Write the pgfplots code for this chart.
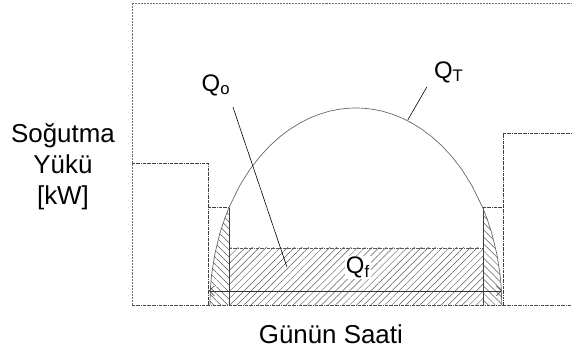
\documentclass[border=0pt]{standalone}
\usepackage{fontspec}
\setmainfont{Liberation Sans}
\usepackage{pgfplots}
\pgfplotsset{compat=1.18}
\usetikzlibrary{patterns.meta,arrows.meta}
\begin{document}
\begin{tikzpicture}
\begin{axis}[scale only axis, width=440bp, height=302bp,
  xmin=132, xmax=572, ymin=0, ymax=302,
  axis lines=none, clip=false]
\path (axis cs:0,-47) rectangle (axis cs:572,305);
% hatched areas
\addplot[draw=none, pattern={Lines[angle=-45,distance=5pt,line width=0.5pt]}, pattern color=black!65]
  coordinates {(210,0)(210.5,16.3)(211,23.0)(212,32.5)(215,51.1)(220,71.7)(225,87.0)(229,97.2)} \closedcycle;
\addplot[draw=none, pattern={Lines[angle=-45,distance=5pt,line width=0.5pt]}, pattern color=black!65]
  coordinates {(483,97.2)(487,87.0)(492,71.7)(497,51.1)(500,32.5)(501,23.0)(501.5,16.3)(502,0)} \closedcycle;
\addplot[draw=none, pattern={Lines[angle=45,distance=5pt,line width=0.5pt]}, pattern color=black!65]
  coordinates {(229,57)(483,57)} \closedcycle;
% frame
\addplot[densely dotted, black!55, line width=0.5pt] coordinates {(132,0)(132,302)(572,302)};
\addplot[densely dashdotted, black!70, line width=0.5pt] coordinates {(132,0)(572,0)};
% stepped load profile
\addplot[densely dashdotted, black!75, line width=0.5pt] coordinates {(132,142)(208,142)(208,0)};
\addplot[densely dashdotted, black!75, line width=0.5pt] coordinates {(208,97.2)(229,97.2)};
\addplot[densely dashdotted, black!75, line width=0.5pt] coordinates {(503,0)(503,172)(572,172)};
\addplot[densely dashdotted, black!75, line width=0.5pt] coordinates {(483,97.2)(503,97.2)};
\addplot[densely dashdotted, black!65, line width=0.5pt] coordinates {(229,57)(483,57)};
% verticals
\addplot[black!75, line width=0.5pt] coordinates {(229,0)(229,97.2)};
\addplot[black!75, line width=0.5pt] coordinates {(483,0)(483,97.2)};
% total load curve
\addplot[black!60, line width=0.7pt] coordinates {
(210,0)(210.5,16.3)(211,23.0)(212,32.5)(215,51.1)(220,71.7)(225,87.0)(229,97.2)(240,119.6)(250,135.5)(260,148.4)(270,159.2)(280,168.2)(290,175.7)(300,181.9)(310,187.0)(320,190.9)(330,193.9)(340,195.8)(348,196.7)(356,197)
(364,196.7)(372,195.8)(382,193.9)(392,190.9)(402,187.0)(412,181.9)(422,175.7)(432,168.2)(442,159.2)(452,148.4)(462,135.5)(472,119.6)(483,97.2)(487,87.0)(492,71.7)(497,51.1)(500,32.5)(501,23.0)(501.5,16.3)(502,0)};
% double arrow
\addplot[black!80, line width=0.6pt, {Straight Barb[length=5pt]}-{Straight Barb[length=5pt]}] coordinates {(209,14)(502,14)};
% leaders
\addplot[black, line width=0.6pt] coordinates {(233,198)(287,38)};
\addplot[black, line width=0.6pt] coordinates {(427,218)(408,185)};
% labels
\node[font=\fontsize{24}{28}\selectfont] at (axis cs:216,220) {Q\textsubscript{o}};
\node[font=\fontsize{24}{28}\selectfont] at (axis cs:449,233) {Q\textsubscript{T}};
\node[font=\fontsize{24}{28}\selectfont, fill=white, inner sep=1pt] at (axis cs:358,37) {Q\textsubscript{f}};
\node[font=\fontsize{26}{31}\selectfont, align=center] at (axis cs:63,138) {Soğutma\\Yükü\\{[kW]}};
\node[font=\fontsize{26}{31}\selectfont] at (axis cs:331,-29) {Günün Saati};
\end{axis}
\end{tikzpicture}
\end{document}
